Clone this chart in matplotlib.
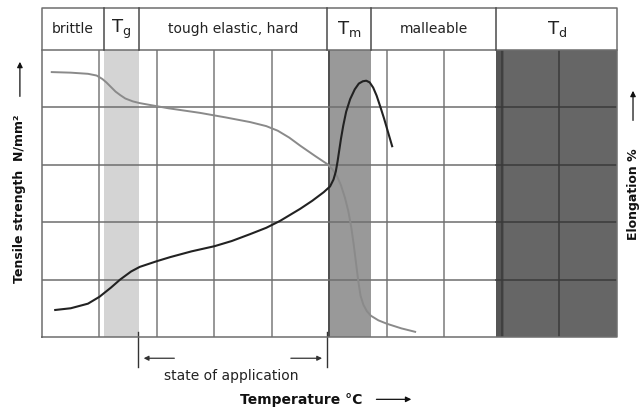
import numpy as np
import matplotlib.pyplot as plt
from matplotlib.patches import Rectangle, FancyArrowPatch

# header cells: (left, right, label)
hdr_edges = [0.0, 1.08, 1.68, 4.96, 5.73, 7.9, 10.0]
hdr_labels = ['brittle', r'$\mathrm{T_g}$', 'tough elastic, hard',
              r'$\mathrm{T_m}$', 'malleable', r'$\mathrm{T_d}$']
hdr_big = [False, True, False, True, False, True]

# shaded temperature bands
band_lo = [1.08, 4.97, 7.9]
band_hi = [1.68, 5.73, 10.0]
band_col = ['#d4d4d4', '#999999', '#666666']

# grey curve (tensile strength)
ts_x = [0.17, 0.5, 0.8, 0.95, 1.05, 1.12, 1.2, 1.28, 1.36, 1.45, 1.58, 1.7,
        2.2, 2.75, 3.2, 3.62, 3.9, 4.1, 4.3, 4.49, 4.62, 4.75, 4.87, 4.96,
        5.05, 5.13, 5.2, 5.27, 5.33, 5.38, 5.42, 5.46, 5.5, 5.54, 5.59,
        5.65, 5.72, 5.85, 6.0, 6.25, 6.49]
ts_y = [4.61, 4.60, 4.58, 4.55, 4.49, 4.43, 4.35, 4.27, 4.21, 4.15, 4.10,
        4.07, 3.98, 3.90, 3.82, 3.74, 3.67, 3.59, 3.47, 3.33, 3.24, 3.15,
        3.07, 3.01, 2.92, 2.80, 2.64, 2.42, 2.18, 1.90, 1.62, 1.30, 0.98,
        0.72, 0.56, 0.45, 0.37, 0.29, 0.23, 0.15, 0.09]

# black curve (elongation)
el_x = [0.23, 0.5, 0.8, 1.0, 1.2, 1.36, 1.55, 1.7, 2.0, 2.23, 2.6, 3.0,
        3.3, 3.62, 3.9, 4.14, 4.49, 4.7, 4.9, 5.01, 5.07, 5.11, 5.14, 5.17,
        5.2, 5.24, 5.29, 5.36, 5.44, 5.51, 5.58, 5.64, 5.7, 5.76, 5.82,
        5.88, 5.95, 6.02, 6.09]
el_y = [0.47, 0.50, 0.58, 0.70, 0.86, 1.00, 1.14, 1.22, 1.32, 1.39, 1.49,
        1.58, 1.67, 1.79, 1.90, 2.02, 2.23, 2.37, 2.52, 2.62, 2.74, 2.88,
        3.05, 3.25, 3.45, 3.68, 3.92, 4.14, 4.31, 4.41, 4.45, 4.46, 4.43,
        4.34, 4.20, 4.02, 3.80, 3.56, 3.32]

fig = plt.figure(figsize=(6.42, 4.14), dpi=100)
ax = fig.add_axes([0.0654, 0.1836, 0.8956, 0.694])
ax.set_xlim(0, 10)
ax.set_ylim(0, 5)
ax.axis('off')

for lo, hi, c in zip(band_lo, band_hi, band_col):
    ax.add_patch(Rectangle((lo, 0), hi - lo, 5, facecolor=c, edgecolor='none', zorder=1))
ax.add_patch(Rectangle((7.9, 0), 0.13, 5, facecolor='#555555', edgecolor='none', zorder=1))

# grid
for xv in range(1, 10):
    col = '#3a3a3a' if xv in (5, 8, 9) else '#7a7a7a'
    ax.plot([xv, xv], [0, 5], color=col, lw=1.1, zorder=2)
for yv in range(1, 5):
    ax.plot([0, 7.9], [yv, yv], color='#6e6e6e', lw=1.1, zorder=2)
    ax.plot([7.9, 10], [yv, yv], color='#3a3a3a', lw=1.1, zorder=2)
ax.plot([0, 10, 10, 0, 0], [0, 0, 5.73, 5.73, 0], color='#6e6e6e', lw=1.1,
        clip_on=False, zorder=3)
ax.plot([0, 10], [5, 5], color='#6e6e6e', lw=1.1, clip_on=False, zorder=3)

# header
for i, lab in enumerate(hdr_labels):
    l, r = hdr_edges[i], hdr_edges[i + 1]
    if i > 0:
        ax.plot([l, l], [5, 5.73], color='#4a4a4a', lw=1.1, clip_on=False, zorder=3)
    ax.text((l + r) / 2, 5.37, lab, ha='center', va='center',
            fontsize=13 if hdr_big[i] else 10, color='#222222')

# curves
ax.plot(ts_x, ts_y, color='#8a8a8a', lw=1.4, zorder=4)
ax.plot(el_x, el_y, color='#222222', lw=1.5, zorder=4)

# state of application annotation (below axes)
ax.plot([1.67, 1.67], [0.09, -0.52], color='#333333', lw=1.0, clip_on=False)
ax.plot([4.96, 4.96], [0.09, -0.52], color='#333333', lw=1.0, clip_on=False)
ax.annotate('', xy=(1.72, -0.37), xytext=(2.35, -0.37),
            arrowprops=dict(arrowstyle='-|>', color='#333333', lw=0.9, mutation_scale=7),
            annotation_clip=False)
ax.annotate('', xy=(4.92, -0.37), xytext=(4.28, -0.37),
            arrowprops=dict(arrowstyle='-|>', color='#333333', lw=0.9, mutation_scale=7),
            annotation_clip=False)
ax.text(3.3, -0.66, 'state of application', ha='center', va='center',
        fontsize=10, color='#222222')

fig.text(0.469, 0.033, 'Temperature °C', ha='center', va='center',
         fontsize=10, fontweight='bold', color='#111111')
fig.add_artist(FancyArrowPatch(
    (0.582, 0.033), (0.645, 0.033), transform=fig.transFigure,
    arrowstyle='-|>', mutation_scale=8, color='#111111', lw=0.9))

fig.text(0.031, 0.519, 'Tensile strength  N/mm²', rotation=90, ha='center',
         va='center', fontsize=9, fontweight='bold', color='#111111')
fig.add_artist(FancyArrowPatch(
    (0.031, 0.758), (0.031, 0.855), transform=fig.transFigure,
    arrowstyle='-|>', mutation_scale=8, color='#111111', lw=0.9))

fig.text(0.986, 0.53, 'Elongation %', rotation=90, ha='center',
         va='center', fontsize=9, fontweight='bold', color='#111111')
fig.add_artist(FancyArrowPatch(
    (0.986, 0.70), (0.986, 0.785), transform=fig.transFigure,
    arrowstyle='-|>', mutation_scale=8, color='#111111', lw=0.9))

fig.savefig('out.png', dpi=100)
